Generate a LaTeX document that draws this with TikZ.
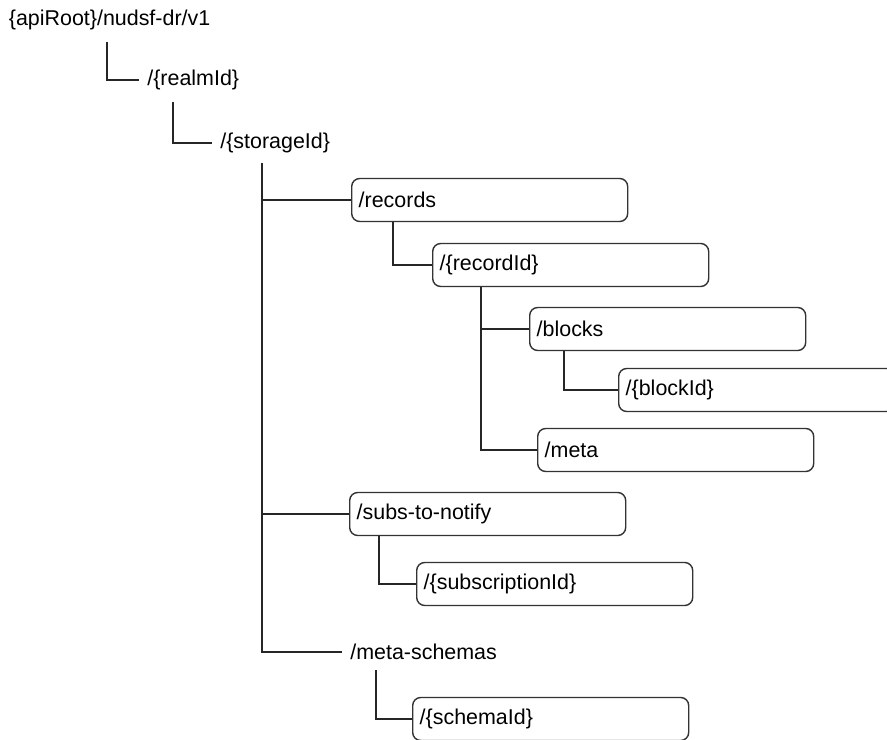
\documentclass[tikz,border=0pt]{standalone}
\usepackage{fontspec}
\setmainfont{Liberation Sans}
\usepackage{tikz}
\usetikzlibrary{positioning}

\begin{document}
\begin{tikzpicture}[
 res/.style={rectangle,rounded corners=0.16cm,draw=black!80,line width=0.8pt,
  minimum height=0.86cm,text width=5.24cm,inner xsep=0.14cm,align=left,anchor=west},
 leaf/.style={anchor=west,inner xsep=0.16cm,inner ysep=0pt},
 link/.style={draw=black!85,line width=0.8pt},
 font=\fontsize{12.2}{14}\selectfont]
\useasboundingbox (0,0) rectangle (17.74,14.8);
\clip (0,0) rectangle (17.74,14.8);
% root and path levels
\node[anchor=west,inner sep=0pt] (root) at (0.17,14.4) {\{apiRoot\}/nudsf-dr/v1};
\node[leaf] (realm) at (2.78,13.2) {/\{realmId\}};
\node[leaf] (storage) at (4.24,11.94) {/\{storageId\}};
\coordinate (t0) at (2.14,13.96);
\coordinate (t1) at (3.46,12.76);
\coordinate (t2) at (5.24,11.54);
\draw[link] (t0) |- (realm.west);
\draw[link] (t1) |- (storage.west);
% records
\node[res] (records) at (7.02,10.8) {/records};
\node[res] (recid) at (8.64,9.5) {/\{recordId\}};
\node[res] (blocks) at (10.58,8.22) {/blocks};
\node[res] (blockid) at (12.36,7.0) {/\{blockId\}};
\node[res] (meta) at (10.74,5.8) {/meta};
% subscriptions
\node[res] (subs) at (6.98,4.52) {/subs-to-notify};
\node[res] (subid) at (8.32,3.12) {/\{subscriptionId\}};
% schemas
\node[leaf] (mschemas) at (6.84,1.76) {/meta-schemas};
\node[res] (schemaid) at (8.24,0.42) {/\{schemaId\}};
\coordinate (r1) at ([xshift=0.98cm]recid.south west);
\coordinate (m1) at ([xshift=0.68cm,yshift=-0.2cm]mschemas.south west);
\draw[link] (t2) |- (mschemas.west);
\draw[link] (t2 |- records.west) -- (records.west);
\draw[link] (t2 |- subs.west) -- (subs.west);
\draw[link] ([xshift=0.84cm]records.south west) |- (recid.west);
\draw[link] (r1) |- (meta.west);
\draw[link] (r1 |- blocks.west) -- (blocks.west);
\draw[link] ([xshift=0.7cm]blocks.south west) |- (blockid.west);
\draw[link] ([xshift=0.6cm]subs.south west) |- (subid.west);
\draw[link] (m1) |- (schemaid.west);
\end{tikzpicture}
\end{document}
